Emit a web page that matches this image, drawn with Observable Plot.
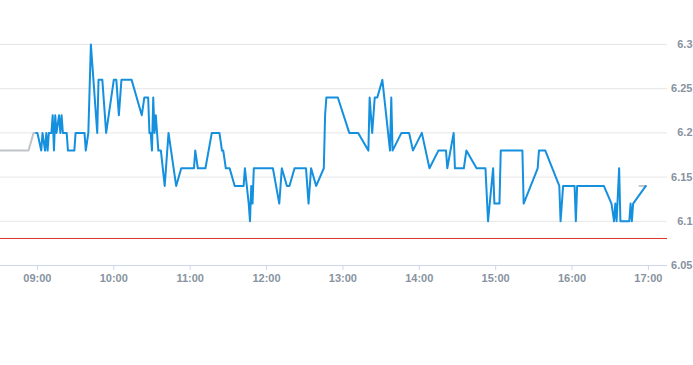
<!DOCTYPE html>
<html>
<head>
<meta charset="utf-8">
<script src="https://cdn.jsdelivr.net/npm/d3@7"></script>
<script src="https://cdn.jsdelivr.net/npm/@observablehq/plot@0.6"></script>
<style>
  html, body { margin: 0; padding: 0; background: #ffffff; }
  #chart { width: 693px; height: 365px; overflow: hidden; }
</style>
</head>
<body>
<div id="chart"></div>
<script>
// ---- data ----
const xDomain = ["08:31", "17:15"];
const xTicks = ["09:00", "10:00", "11:00", "12:00", "13:00", "14:00", "15:00", "16:00", "17:00"];
const yTicks = [6.05, 6.1, 6.15, 6.2, 6.25, 6.3];
const refPrice = 6.08;

const preTimes  = ["08:31", "08:53", "08:57", "08:59"];
const prePrices = [6.18, 6.18, 6.20, 6.20];

const tailTimes  = ["16:53", "16:58"];
const tailPrices = [6.14, 6.14];

const tradeTimes = [
  "08:59","09:00","09:03","09:04","09:06","09:07","09:08","09:09","09:11","09:12",
  "09:13","09:14","09:15","09:17","09:18","09:19","09:20","09:23","09:24","09:29",
  "09:30","09:37","09:38","09:40","09:42","09:43","09:47","09:48","09:51","09:54",
  "10:00","10:02","10:04","10:06","10:14","10:22","10:24","10:27","10:28","10:29",
  "10:30","10:31","10:32","10:33","10:35","10:37","10:40","10:43","10:49","10:53",
  "11:03","11:04","11:06","11:12","11:17","11:23","11:25","11:26","11:28","11:31",
  "11:35","11:42","11:43","11:46","11:47","11:48","11:49","11:50","12:05","12:10",
  "12:12","12:16","12:18","12:22","12:31","12:33","12:35","12:39","12:45","12:46",
  "12:47","12:56","13:05","13:12","13:20","13:21","13:23","13:25","13:27","13:31",
  "13:37","13:38","13:39","13:46","13:52","13:55","14:02","14:08","14:15","14:21",
  "14:22","14:27","14:28","14:35","14:37","14:45","14:52","14:54","14:58","14:59",
  "15:03","15:04","15:21","15:22","15:33","15:34","15:39","15:50","15:51","15:53",
  "16:02","16:03","16:04","16:25","16:31","16:33","16:34","16:35","16:37","16:38",
  "16:45","16:46","16:47","16:48","16:58"
];
const tradePrices = [
  6.20,6.20,6.18,6.20,6.18,6.20,6.18,6.20,6.20,6.22,
  6.18,6.22,6.20,6.22,6.20,6.22,6.20,6.20,6.18,6.18,
  6.20,6.20,6.18,6.20,6.30,6.28,6.20,6.26,6.26,6.20,
  6.26,6.26,6.22,6.26,6.26,6.22,6.24,6.24,6.20,6.20,
  6.18,6.24,6.20,6.22,6.18,6.18,6.14,6.20,6.14,6.16,
  6.16,6.18,6.16,6.16,6.20,6.20,6.18,6.18,6.16,6.16,
  6.14,6.14,6.16,6.12,6.10,6.14,6.12,6.16,6.16,6.12,
  6.16,6.14,6.14,6.16,6.16,6.12,6.16,6.14,6.16,6.22,
  6.24,6.24,6.20,6.20,6.18,6.24,6.20,6.24,6.24,6.26,
  6.18,6.24,6.18,6.20,6.20,6.18,6.20,6.16,6.18,6.18,
  6.16,6.20,6.16,6.16,6.18,6.16,6.16,6.10,6.16,6.12,
  6.12,6.18,6.18,6.12,6.16,6.18,6.18,6.14,6.10,6.14,
  6.14,6.10,6.14,6.14,6.12,6.10,6.12,6.10,6.16,6.10,
  6.10,6.12,6.10,6.12,6.14
];

// ---- build ----
const parse = s => { const [h, m] = s.split(":").map(Number); return new Date(Date.UTC(2024, 0, 2, h, m)); };
const toRows = (ts, ps) => ts.map((t, i) => ({ time: parse(t), price: ps[i] }));
const pre = toRows(preTimes, prePrices);
const tail = toRows(tailTimes, tailPrices);
const trade = toRows(tradeTimes, tradePrices);

const labelColor = "#8793a0";

const chart = Plot.plot({
  width: 693,
  height: 365,
  marginLeft: 0,
  marginRight: 26,
  marginTop: 44,
  marginBottom: 100,
  style: { fontFamily: "'Liberation Sans', Arial, sans-serif", fontSize: "11px", fontWeight: "bold", color: labelColor, background: "#ffffff", overflow: "visible" },
  x: { type: "utc", domain: xDomain.map(parse) },
  y: { domain: [yTicks[0], yTicks[yTicks.length - 1]] },
  marks: [
    Plot.gridY(yTicks, { stroke: "#e6e6e6", strokeOpacity: 1 }),
    Plot.ruleY([yTicks[0]], { stroke: "#ccd6eb" }),
    Plot.axisX(xTicks.map(parse), { tickFormat: d3.utcFormat("%H:%M"), tickSize: 5, tickPadding: 4, stroke: "#ccd6eb", fill: labelColor, label: null }),
    Plot.axisY(yTicks, { anchor: "right", tickSize: 0, tickPadding: 0, textAnchor: "end", dx: 25, tickFormat: d3.format("~g"), fill: labelColor, label: null }),
    Plot.ruleY([refPrice], { stroke: "#d9342b", strokeWidth: 1, dy: -0.5 }),
    Plot.line(pre, { x: "time", y: "price", stroke: "#c0c4c8", strokeWidth: 2 }),
    Plot.line(tail, { x: "time", y: "price", stroke: "#c0c4c8", strokeWidth: 2 }),
    Plot.line(trade, { x: "time", y: "price", stroke: "#1490df", strokeWidth: 2, strokeLinejoin: "round" })
  ]
});
document.getElementById("chart").appendChild(chart);
</script>
</body>
</html>
